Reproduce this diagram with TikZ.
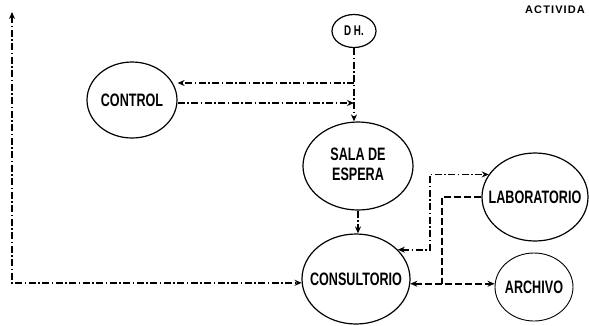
\documentclass[tikz,border=0pt]{standalone}
\usepackage{fontspec}
\setmainfont{Liberation Sans}[FakeStretch=0.7]
\newfontfamily\actfont{Liberation Sans}[LetterSpace=10]
\usetikzlibrary{shapes.geometric,arrows.meta}
\tikzset{
  bub/.style={ellipse, draw, line width=1.2pt, inner sep=0pt, font=\fontsize{18}{20}\selectfont\bfseries},
  dashdot/.style={line width=1.8pt, dash pattern=on 7pt off 2.5pt on 1.5pt off 2.5pt},
  dsh/.style={line width=1.8pt, dash pattern=on 7pt off 3pt},
  tip/.style={-{Stealth[length=7pt,width=6pt]}},
  tips/.style={{Stealth[length=7pt,width=6pt]}-{Stealth[length=7pt,width=6pt]}}
}
\begin{document}
\begin{tikzpicture}[x=1pt,y=-1pt]
\useasboundingbox (0,0) rectangle (589,325);
\node[bub, minimum width=44pt, minimum height=33pt, font=\fontsize{14}{16}\selectfont\bfseries] (dh) at (354,31) {\makebox[0pt]{D H.}};
\node[bub, minimum width=90pt, minimum height=76pt] (control) at (132,100) {\makebox[0pt]{\raisebox{-5pt}{CONTROL}}};
\node[bub, minimum width=110pt, minimum height=88pt] (sala) at (358,166) {\makebox[0pt]{\raisebox{-5pt}{\begin{tabular}{@{}c@{}}SALA DE\\ESPERA\end{tabular}}}};
\node[bub, minimum width=108pt, minimum height=90pt] (cons) at (356,279) {\makebox[0pt]{CONSULTORIO}};
\node[bub, minimum width=106pt, minimum height=88pt] (lab) at (535,197) {\makebox[0pt]{LABORATORIO}};
\node[bub, minimum width=78pt, minimum height=68pt, line width=0.9pt] (arch) at (534,287) {\makebox[0pt]{ARCHIVO}};
\node[anchor=west, inner sep=0pt, font=\actfont\fontsize{11}{12}\selectfont\bfseries] (act) at (525,10) {ACTIVIDA};

\coordinate (j1) at (dh.south |- 0,83);
\coordinate (j2) at (dh.south |- 0,103);
\coordinate (k1) at (430,0);
\coordinate (k2) at (442,0);
\coordinate (k3) at (12,12);

\draw[dashdot, tip] (dh.south) -- (dh.south |- sala.north);
\draw[dashdot, tip] (j1) -- (j1 -| control.east);
\draw[dashdot, tip] (control.east |- j2) -- (j2);
\draw[dashdot, tip] (sala.south) -- (sala.south |- cons.north);
\draw[dashdot, tips] (cons.35) -- (cons.35 -| k1) -- (k1 |- lab.154) -- (lab.154);
\draw[dsh, tips] (cons.-5) -- (cons.-5 -| arch.west);
\draw[dsh] (lab.west) -- (lab.west -| k2) -- (k2 |- cons.-5);
\draw[dashdot, tips] (k3) -- (k3 |- cons.184) -- (cons.184);
\end{tikzpicture}
\end{document}
